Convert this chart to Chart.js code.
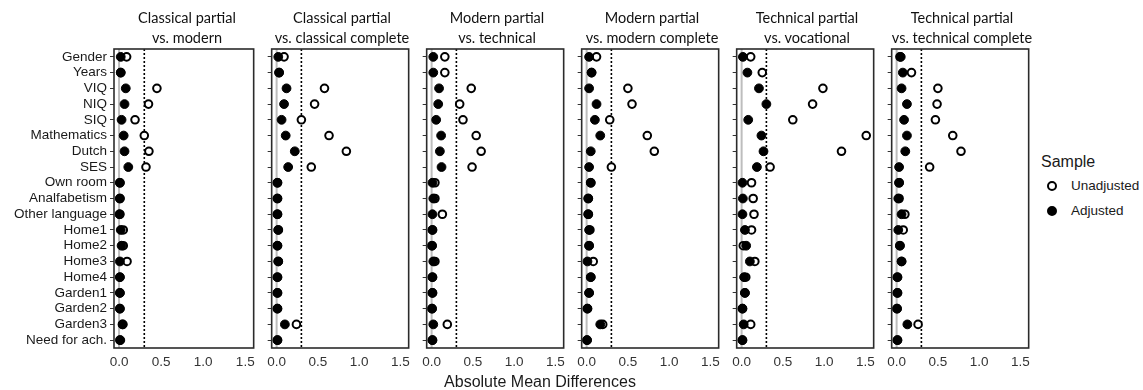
<!DOCTYPE html>
<html>
<head>
<meta charset="utf-8">
<script src="https://cdn.jsdelivr.net/npm/chart.js@4"></script>
<style>
  body { margin: 0; background: #fff; overflow: hidden; }
  #wrap { position: relative; width: 1143px; height: 390px; font-family: "Liberation Sans", Arial, sans-serif; color: #1a1a1a; }
  canvas { position: absolute; top: 0; }
  .ptitle { position: absolute; top: 8px; width: 146px; text-align: center; font-family: Lato, "Open Sans", sans-serif; font-size: 14.5px; line-height: 20px; color: #111; white-space: nowrap; }
  .xtitle { position: absolute; top: 372px; left: 0; width: 1080px; text-align: center; font-size: 16px; line-height: 20px; }
  .lg-title { position: absolute; left: 1041px; top: 152px; font-size: 16px; line-height: 20px; }
  .lg-row { position: absolute; left: 1071px; font-size: 13.5px; line-height: 16px; }
  .lg-mark { position: absolute; width: 10px; height: 10px; border-radius: 50%; box-sizing: border-box; }
</style>
</head>
<body>
<div id="wrap"></div>
<script>
// Categories (rows, top to bottom)
const categories = ['Gender', 'Years', 'VIQ', 'NIQ', 'SIQ', 'Mathematics', 'Dutch', 'SES',
    'Own room', 'Analfabetism', 'Other language', 'Home1', 'Home2', 'Home3', 'Home4',
    'Garden1', 'Garden2', 'Garden3', 'Need for ach.'];

const panelTitles = [
    ['Classical partial', 'vs. modern'],
    ['Classical partial', 'vs. classical complete'],
    ['Modern partial', 'vs. technical'],
    ['Modern partial', 'vs. modern complete'],
    ['Technical partial', 'vs. vocational'],
    ['Technical partial', 'vs. technical complete']
];

const xTicks = [0, 0.5, 1.0, 1.5];
const cutoff = 0.3;

// Unadjusted (open circles)
const unadjClassicalModern   = [0.09, 0.02, 0.45, 0.35, 0.19, 0.30, 0.355, 0.32, 0.01, 0.01, 0.01, 0.05, 0.05, 0.095, 0.01, 0.01, 0.01, 0.04, 0.01];
const unadjClassicalComplete = [0.09, 0.03, 0.58, 0.46, 0.30, 0.635, 0.845, 0.42, 0.01, 0.01, 0.01, 0.02, 0.01, 0.02, 0.01, 0.01, 0.01, 0.24, 0.01];
const unadjModernTechnical   = [0.16, 0.16, 0.48, 0.34, 0.38, 0.54, 0.60, 0.49, 0.04, 0.04, 0.13, 0.01, 0.005, 0.04, 0.01, 0.01, 0.005, 0.19, 0.01];
const unadjModernComplete    = [0.12, 0.06, 0.50, 0.55, 0.28, 0.735, 0.82, 0.30, 0.05, 0.02, 0.02, 0.04, 0.03, 0.08, 0.05, 0.03, 0.01, 0.195, 0.005];
const unadjTechVocational    = [0.11, 0.25, 0.985, 0.86, 0.62, 1.51, 1.21, 0.345, 0.12, 0.14, 0.15, 0.12, 0.02, 0.16, 0.05, 0.04, 0.01, 0.11, 0.01];
const unadjTechComplete      = [0.04, 0.18, 0.50, 0.49, 0.47, 0.68, 0.78, 0.40, 0.03, 0.03, 0.10, 0.08, 0.04, 0.06, 0.01, 0.01, 0.005, 0.26, 0.01];

// Adjusted (filled circles)
const adjClassicalModern   = [0.02, 0.02, 0.08, 0.065, 0.03, 0.055, 0.065, 0.11, 0.01, 0.01, 0.005, 0.02, 0.03, 0.01, 0.01, 0.01, 0.01, 0.045, 0.015];
const adjClassicalComplete = [0.02, 0.03, 0.12, 0.09, 0.06, 0.11, 0.22, 0.14, 0.01, 0.01, 0.01, 0.02, 0.01, 0.02, 0.01, 0.01, 0.01, 0.10, 0.01];
const adjModernTechnical   = [0.02, 0.02, 0.09, 0.08, 0.055, 0.115, 0.10, 0.12, 0.01, 0.02, 0.01, 0.01, 0.005, 0.02, 0.01, 0.01, 0.005, 0.02, 0.01];
const adjModernComplete    = [0.03, 0.06, 0.03, 0.12, 0.10, 0.165, 0.05, 0.03, 0.05, 0.02, 0.02, 0.03, 0.03, 0.01, 0.05, 0.03, 0.01, 0.165, 0.005];
const adjTechVocational    = [0.015, 0.07, 0.21, 0.30, 0.08, 0.24, 0.265, 0.185, 0.01, 0.015, 0.01, 0.04, 0.055, 0.10, 0.03, 0.04, 0.01, 0.025, 0.01];
const adjTechComplete      = [0.05, 0.075, 0.06, 0.125, 0.09, 0.125, 0.105, 0.03, 0.03, 0.02, 0.06, 0.02, 0.04, 0.06, 0.01, 0.01, 0.005, 0.13, 0.01];

const unadjusted = [unadjClassicalModern, unadjClassicalComplete, unadjModernTechnical,
    unadjModernComplete, unadjTechVocational, unadjTechComplete];
const adjusted = [adjClassicalModern, adjClassicalComplete, adjModernTechnical,
    adjModernComplete, adjTechVocational, adjTechComplete];

// Layout
const firstLeft = 114;
const panelStep = 155;
const panelWidth = 146;
const tickFont = { family: '"Liberation Sans", Arial, sans-serif', size: 13.5 };
const tickColor = '#1a1a1a';

// Zero line, cutoff line and the panel frame
const framePlugin = {
    id: 'frame',
    beforeDatasetsDraw(chart) {
        const { ctx, chartArea: a, scales: { x } } = chart;
        ctx.save();
        const x0 = x.getPixelForValue(0);
        ctx.strokeStyle = '#bdbdbd';
        ctx.lineWidth = 2;
        ctx.beginPath();
        ctx.moveTo(x0, a.top);
        ctx.lineTo(x0, a.bottom);
        ctx.stroke();
        const xc = x.getPixelForValue(cutoff);
        ctx.strokeStyle = '#000';
        ctx.lineWidth = 1.6;
        ctx.setLineDash([2, 2]);
        ctx.beginPath();
        ctx.moveTo(xc, a.top);
        ctx.lineTo(xc, a.bottom);
        ctx.stroke();
        ctx.restore();
    },
    afterDraw(chart) {
        const { ctx, chartArea: a } = chart;
        ctx.save();
        ctx.strokeStyle = '#2b2b2b';
        ctx.lineWidth = 1.6;
        ctx.strokeRect(a.left, a.top, a.right - a.left, a.bottom - a.top);
        ctx.restore();
    }
};

const wrap = document.getElementById('wrap');

panelTitles.forEach((title, i) => {
    const first = i === 0;
    const panelLeft = firstLeft + i * panelStep;
    const axisWidth = first ? panelLeft : 8;

    const canvas = document.createElement('canvas');
    canvas.width = axisWidth + panelWidth + 1;
    canvas.height = 390;
    canvas.style.left = (panelLeft - axisWidth) + 'px';
    wrap.appendChild(canvas);

    const t = document.createElement('div');
    t.className = 'ptitle';
    t.style.left = panelLeft + 'px';
    t.innerHTML = title.join('<br>');
    wrap.appendChild(t);

    new Chart(canvas, {
        type: 'line',
        data: {
            labels: categories,
            datasets: [
                {
                    label: 'Adjusted',
                    data: adjusted[i],
                    showLine: false,
                    pointRadius: 4.4,
                    pointBackgroundColor: '#000',
                    pointBorderColor: '#000',
                    pointBorderWidth: 1,
                    clip: false
                },
                {
                    label: 'Unadjusted',
                    data: unadjusted[i],
                    showLine: false,
                    pointRadius: 3.8,
                    pointBackgroundColor: '#fff',
                    pointBorderColor: '#000',
                    pointBorderWidth: 2,
                    clip: false
                }
            ]
        },
        options: {
            indexAxis: 'y',
            responsive: false,
            animation: false,
            layout: { padding: { top: 49, bottom: 12, left: 0, right: 1 } },
            plugins: { legend: { display: false }, tooltip: { enabled: false } },
            scales: {
                x: {
                    type: 'linear',
                    min: -0.06,
                    max: 1.6,
                    afterBuildTicks: s => { s.ticks = xTicks.map(v => ({ value: v })); },
                    afterFit: s => { s.height = 30; },
                    grid: { display: false, drawTicks: false },
                    border: { display: false },
                    ticks: {
                        padding: 6,
                        maxRotation: 0,
                        autoSkip: false,
                        font: tickFont,
                        color: '#333',
                        callback: v => Number(v).toFixed(1)
                    }
                },
                y: {
                    type: 'category',
                    offset: true,
                    afterFit: s => { s.width = axisWidth; },
                    grid: { drawOnChartArea: false, tickLength: 4, color: '#333', lineWidth: 1 },
                    border: { display: false },
                    ticks: { display: first, padding: 3, autoSkip: false, font: tickFont, color: tickColor }
                }
            }
        },
        plugins: [framePlugin]
    });
});

// Shared x axis title
const xt = document.createElement('div');
xt.className = 'xtitle';
xt.textContent = 'Absolute Mean Differences';
wrap.appendChild(xt);

// Legend
const lgTitle = document.createElement('div');
lgTitle.className = 'lg-title';
lgTitle.textContent = 'Sample';
wrap.appendChild(lgTitle);

[['Unadjusted', 186, false], ['Adjusted', 211, true]].forEach(([name, y, filled]) => {
    const m = document.createElement('div');
    m.className = 'lg-mark';
    m.style.left = (1052 - 5) + 'px';
    m.style.top = (y - 5) + 'px';
    m.style.background = filled ? '#000' : '#fff';
    m.style.border = '2px solid #000';
    wrap.appendChild(m);
    const r = document.createElement('div');
    r.className = 'lg-row';
    r.style.top = (y - 8) + 'px';
    r.textContent = name;
    wrap.appendChild(r);
});
</script>
</body>
</html>
